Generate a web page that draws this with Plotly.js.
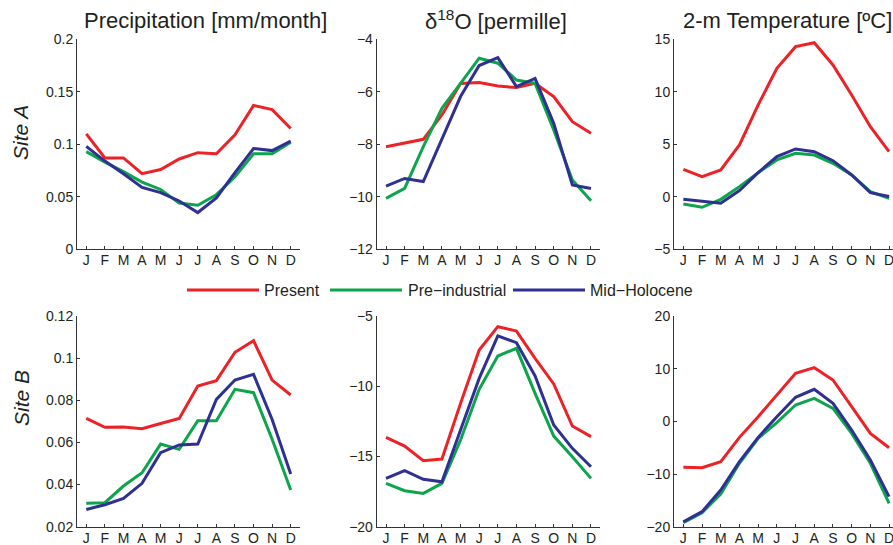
<!DOCTYPE html>
<html>
<head>
<meta charset="utf-8">
<script src="https://cdn.plot.ly/plotly-3.0.1.min.js"></script>
<style>html,body{margin:0;padding:0;overflow:hidden;background:#fff}</style>
</head>
<body>
<div id="chart" style="width:893px;height:545px"></div>
<script>
const months = ['J','F','M','A','M','J','J','A','S','O','N','D'];
const monthIdx = [1,2,3,4,5,6,7,8,9,10,11,12];
const seriesNames = ['Present','Pre\u2212industrial','Mid\u2212Holocene'];

// Site A
const precipA_present = [0.110,0.087,0.087,0.072,0.076,0.086,0.092,0.091,0.109,0.137,0.133,0.115];
const precipA_preind  = [0.093,0.083,0.074,0.064,0.057,0.044,0.042,0.052,0.069,0.091,0.091,0.102];
const precipA_midhol  = [0.098,0.084,0.072,0.059,0.054,0.046,0.035,0.049,0.073,0.096,0.094,0.103];

const d18oA_present = [-8.09,-7.94,-7.81,-6.88,-5.68,-5.65,-5.78,-5.84,-5.68,-6.18,-7.14,-7.58];
const d18oA_preind  = [-10.06,-9.68,-8.09,-6.63,-5.68,-4.72,-4.91,-5.55,-5.68,-7.45,-9.36,-10.15];
const d18oA_midhol  = [-9.59,-9.30,-9.42,-7.83,-6.18,-5.00,-4.70,-5.80,-5.49,-7.20,-9.55,-9.68];

const tempA_present = [2.62,1.92,2.56,4.94,8.75,12.24,14.30,14.68,12.56,9.70,6.68,4.30];
const tempA_preind  = [-0.68,-1.00,-0.24,0.97,2.30,3.51,4.14,3.98,3.19,2.08,0.49,-0.14];
const tempA_midhol  = [-0.24,-0.46,-0.62,0.59,2.30,3.83,4.56,4.30,3.44,2.08,0.40,0.02];

// Site B
const precipB_present = [0.0714,0.0672,0.0673,0.0665,0.0690,0.0714,0.0868,0.0893,0.1028,0.1083,0.0896,0.0825];
const precipB_preind  = [0.0311,0.0314,0.0393,0.0456,0.0592,0.0567,0.0703,0.0703,0.0852,0.0836,0.0615,0.0374];
const precipB_midhol  = [0.0282,0.0304,0.0334,0.0406,0.0551,0.0588,0.0592,0.0804,0.0896,0.0923,0.0709,0.0450];

const d18oB_present = [-13.64,-14.26,-15.30,-15.18,-11.22,-7.42,-5.76,-6.07,-8.01,-9.84,-12.83,-13.59];
const d18oB_preind  = [-16.92,-17.44,-17.63,-16.92,-13.83,-10.22,-7.85,-7.30,-10.51,-13.55,-15.02,-16.56];
const d18oB_midhol  = [-16.56,-16.01,-16.63,-16.80,-13.12,-9.44,-6.42,-6.90,-9.27,-12.76,-14.42,-15.73];

const tempB_present = [-8.73,-8.80,-7.66,-3.04,0.89,5.00,9.11,10.19,7.85,2.78,-2.28,-5.00];
const tempB_preind  = [-19.24,-17.34,-13.80,-7.97,-3.23,-0.25,3.10,4.37,2.47,-2.28,-7.97,-15.57];
const tempB_midhol  = [-19.05,-17.15,-13.04,-7.66,-3.04,0.89,4.56,6.08,3.42,-1.65,-7.34,-14.30];

const panelTitles = ['Precipitation [mm/month]','\u03b4<sup>18</sup>O [permille]','2-m Temperature [\u00baC]'];
const rowLabels = ['Site A','Site B'];
const legendLabels = ['Present','Pre\u2212industrial','Mid\u2212Holocene'];

const colors = ['#EC2227','#0DA54B','#2E3192'];
const W = 893, H = 545;
const FONT = 'Liberation Sans, Arial, Helvetica, sans-serif';
const TXT = '#231f20';

const panels = [
  {data:[precipA_present,precipA_preind,precipA_midhol], ax:1},
  {data:[d18oA_present,d18oA_preind,d18oA_midhol], ax:2},
  {data:[tempA_present,tempA_preind,tempA_midhol], ax:3},
  {data:[precipB_present,precipB_preind,precipB_midhol], ax:4},
  {data:[d18oB_present,d18oB_preind,d18oB_midhol], ax:5},
  {data:[tempB_present,tempB_preind,tempB_midhol], ax:6}
];

const traces = [];
panels.forEach(p => {
  p.data.forEach((arr, i) => {
    traces.push({
      x: monthIdx, y: arr, type: 'scatter', mode: 'lines',
      name: seriesNames[i], showlegend: false,
      line: {color: colors[i], width: 3},
      xaxis: 'x' + (p.ax === 1 ? '' : p.ax),
      yaxis: 'y' + (p.ax === 1 ? '' : p.ax),
      hoverinfo: 'skip'
    });
  });
});

// pixel geometry
const colX = [[77,300],[376.7,600.3],[674,893]];
const rowY = [[39.3,249.3],[316,526.7]];
const xRanges = [[0.5,12.5],[0.5,12.5],[0.5,12.21]];
const yRanges = [[[0,0.2],[-12,-4],[-5,15]],[[0.02,0.12],[-20,-5],[-20,20]]];
const yTicks = [
  [{v:[0,0.05,0.1,0.15,0.2], t:['0','0.05','0.1','0.15','0.2']},
   {v:[-12,-10,-8,-6,-4], t:['\u221212','\u221210','\u22128','\u22126','\u22124']},
   {v:[-5,0,5,10,15], t:['\u22125','0','5','10','15']}],
  [{v:[0.02,0.04,0.06,0.08,0.1,0.12], t:['0.02','0.04','0.06','0.08','0.1','0.12']},
   {v:[-20,-15,-10,-5], t:['\u221220','\u221215','\u221210','\u22125']},
   {v:[-20,-10,0,10,20], t:['\u221220','\u221210','0','10','20']}]
];

const layout = {
  width: W, height: H,
  margin: {l:0, r:0, t:0, b:0},
  paper_bgcolor: '#fff', plot_bgcolor: 'rgba(0,0,0,0)',
  font: {family: FONT, color: TXT, size: 14},
  showlegend: false,
  annotations: [], shapes: []
};

for (let r = 0; r < 2; r++) {
  for (let c = 0; c < 3; c++) {
    const n = r*3 + c + 1;
    const xk = 'xaxis' + (n === 1 ? '' : n);
    const yk = 'yaxis' + (n === 1 ? '' : n);
    layout[xk] = {
      domain: [colX[c][0]/W, colX[c][1]/W],
      range: xRanges[c],
      anchor: 'y' + (n === 1 ? '' : n),
      tickmode: 'array', tickvals: monthIdx, ticktext: months,
      ticks: 'inside', ticklen: 3, tickcolor: '#333', tickwidth: 1,
      ticklabeloverflow: 'allow',
      ticklabelstandoff: -2,
      showline: true, linecolor: '#333', linewidth: 1,
      showgrid: false, zeroline: false,
      tickfont: {size: 14, family: FONT, color: TXT},
      fixedrange: true
    };
    layout[yk] = {
      domain: [1 - rowY[r][1]/H, 1 - rowY[r][0]/H],
      range: yRanges[r][c],
      anchor: 'x' + (n === 1 ? '' : n),
      tickmode: 'array', tickvals: yTicks[r][c].v, ticktext: yTicks[r][c].t,
      ticks: 'inside', ticklen: 3, tickcolor: '#333', tickwidth: 1,
      ticklabeloverflow: 'allow',
      showline: true, linecolor: '#333', linewidth: 1,
      showgrid: false, zeroline: false,
      tickfont: {size: 14, family: FONT, color: TXT},
      fixedrange: true
    };
  }
}

// Column titles
const titleX = [205.5, 496, 787];
panelTitles.forEach((t, i) => {
  layout.annotations.push({
    text: t, xref: 'paper', yref: 'paper',
    x: titleX[i]/W, y: 1 - 20/H, xanchor: 'center', yanchor: 'middle',
    showarrow: false, font: {size: 22, family: FONT, color: TXT}
  });
});

// Row labels
const rowLabelY = [133, 398];
rowLabels.forEach((t, i) => {
  layout.annotations.push({
    text: '<i>' + t + '</i>', xref: 'paper', yref: 'paper',
    x: 21/W, y: 1 - rowLabelY[i]/H, xanchor: 'center', yanchor: 'middle',
    textangle: -90, showarrow: false, font: {size: 21, family: FONT, color: TXT}
  });
});

// Legend (manual, long line samples)
const legY = 1 - 290/H;
const legLines = [[187,259],[330,402],[513,585]];
const legTextX = [262, 406, 588];
legendLabels.forEach((t, i) => {
  layout.shapes.push({
    type: 'line', xref: 'paper', yref: 'paper',
    x0: legLines[i][0]/W, x1: legLines[i][1]/W, y0: legY, y1: legY,
    line: {color: colors[i], width: 3}
  });
  layout.annotations.push({
    text: t, xref: 'paper', yref: 'paper',
    x: legTextX[i]/W, y: legY, xanchor: 'left', yanchor: 'middle',
    showarrow: false, font: {size: 16, family: FONT, color: TXT}
  });
});

Plotly.newPlot('chart', traces, layout, {displayModeBar: false, staticPlot: true});
</script>
</body>
</html>
